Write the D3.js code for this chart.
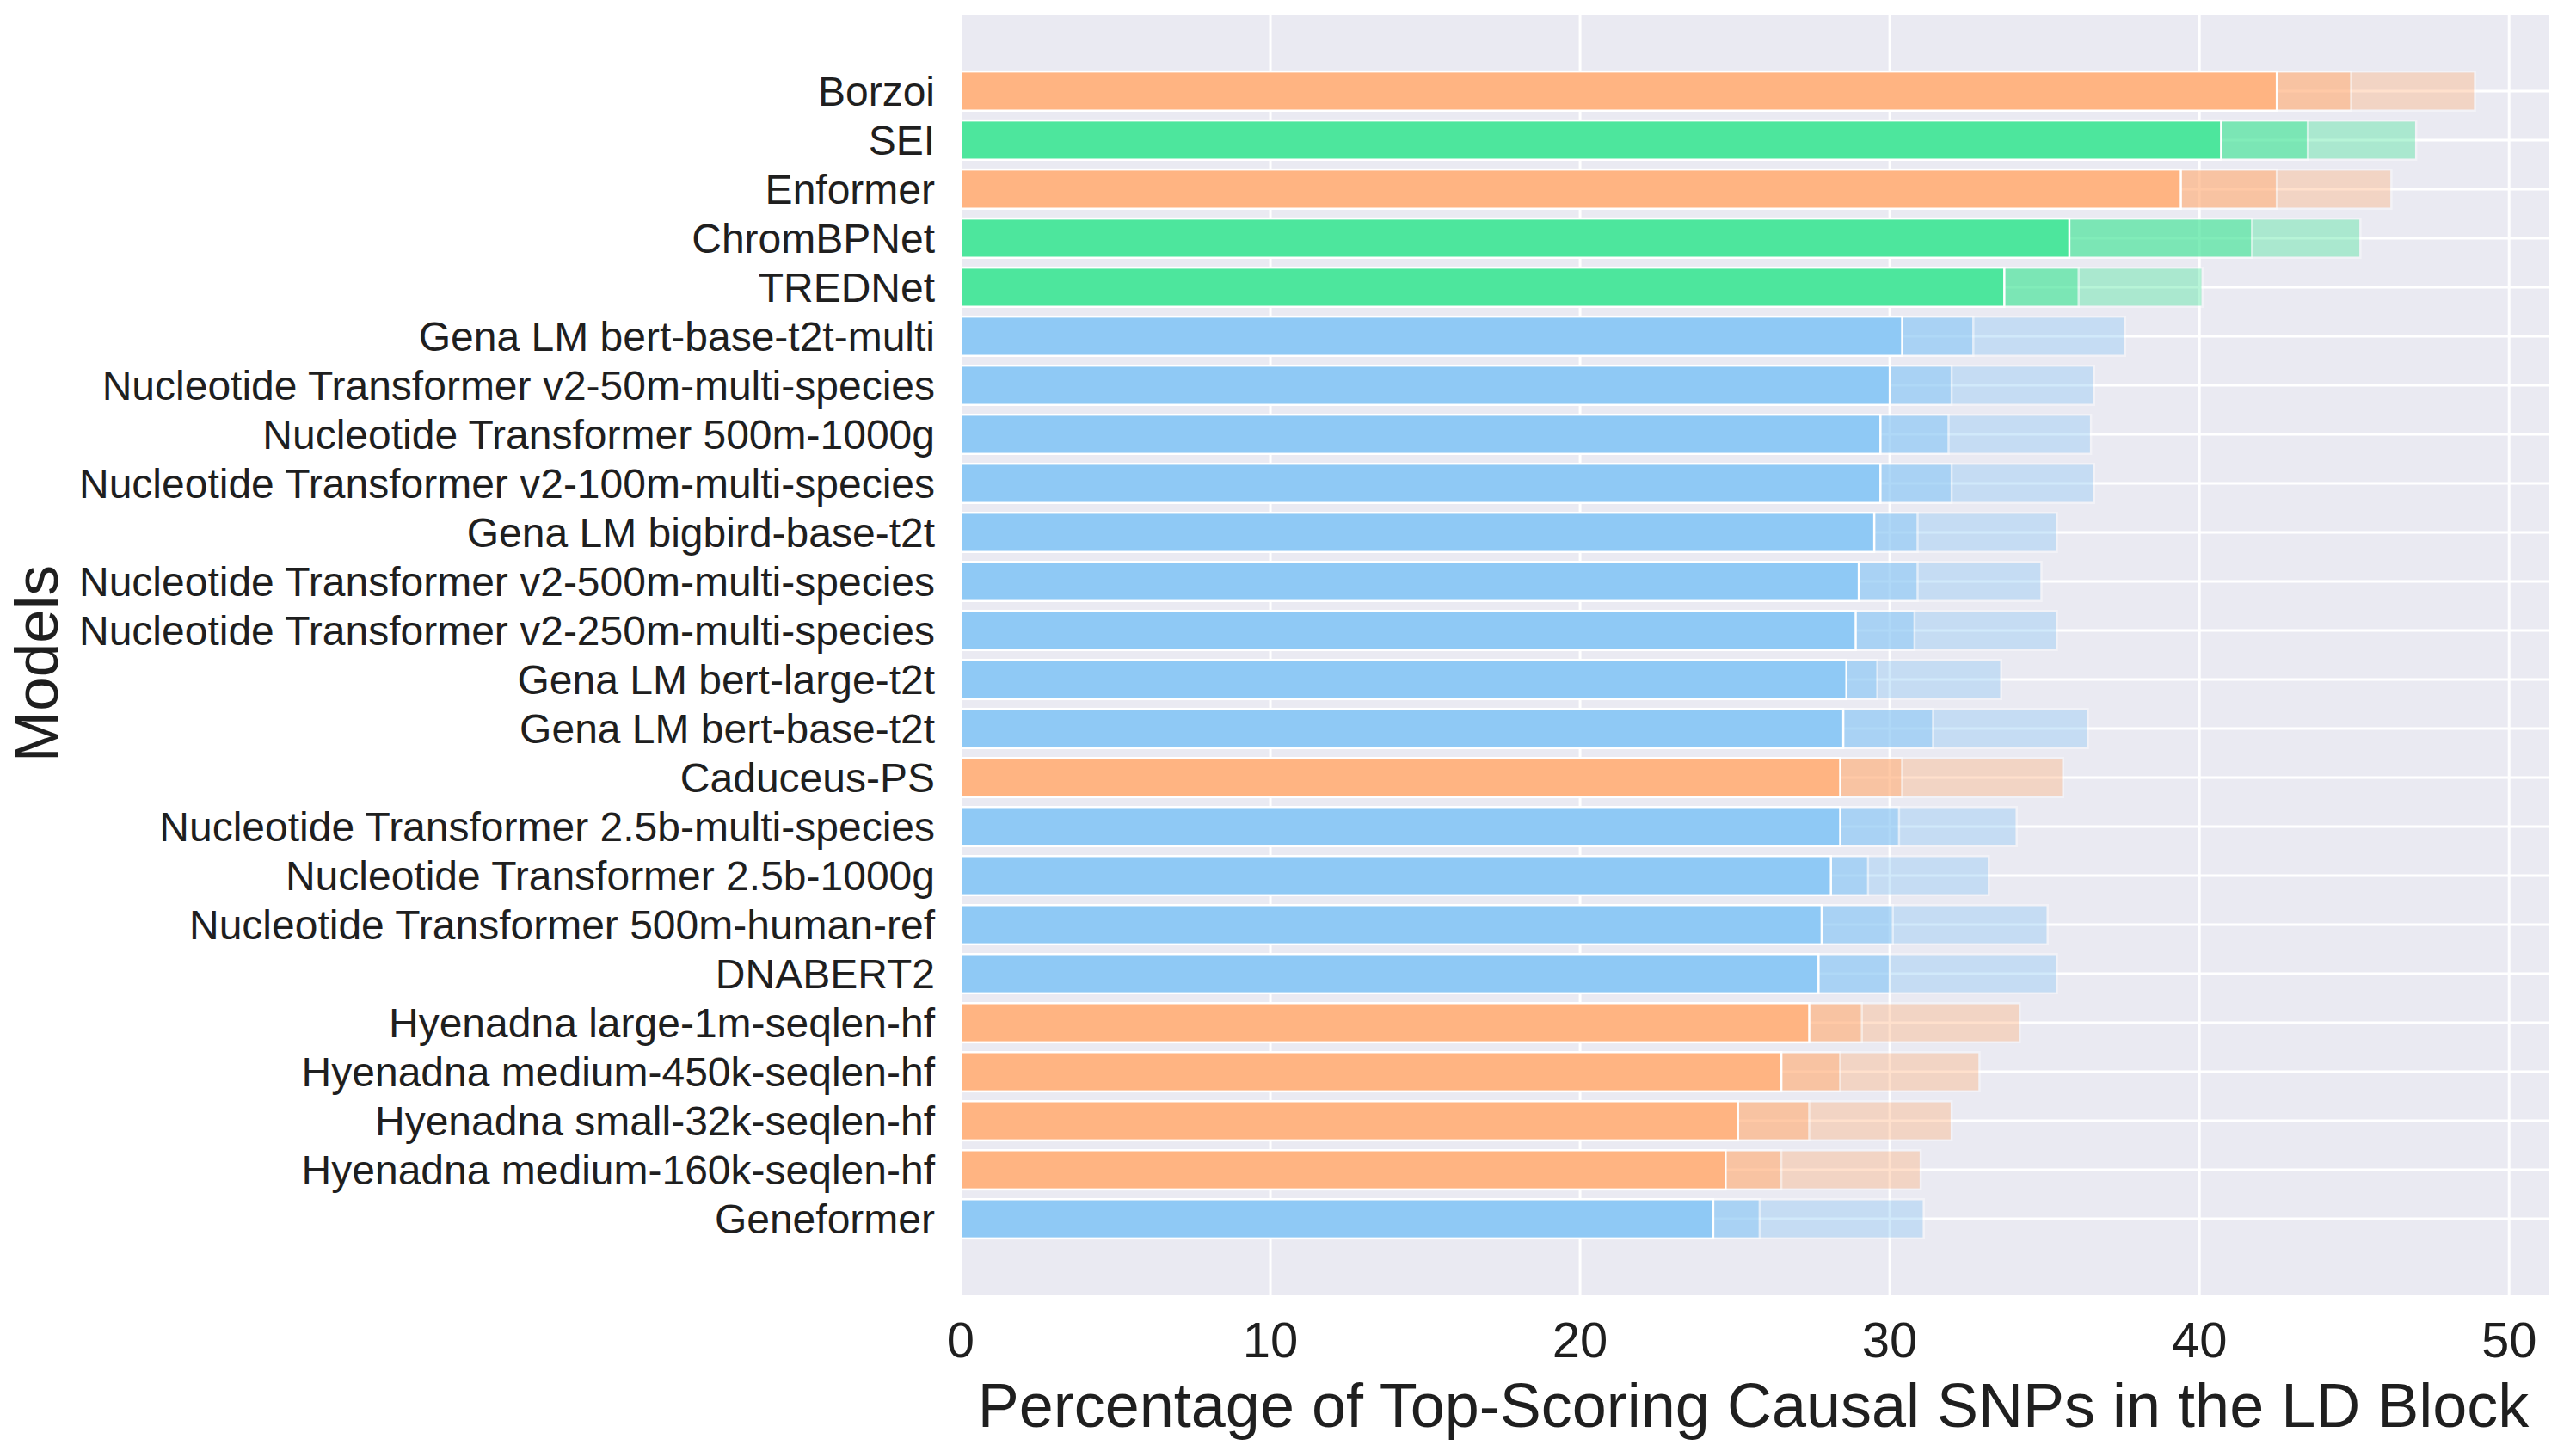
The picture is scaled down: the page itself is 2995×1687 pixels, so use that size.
<!DOCTYPE html>
<html>
<head>
<meta charset="utf-8">
<script src="https://cdn.jsdelivr.net/npm/d3@7"></script>
<style>
  body { margin: 0; background: #fff; }
  text { font-family: "Liberation Sans", Arial, sans-serif; fill: #1f1f1f; }
</style>
</head>
<body>
<svg id="chart" width="2995" height="1687"></svg>
<script>
// models, top to bottom
const models = [
  "Borzoi", "SEI", "Enformer", "ChromBPNet", "TREDNet",
  "Gena LM bert-base-t2t-multi",
  "Nucleotide Transformer v2-50m-multi-species",
  "Nucleotide Transformer 500m-1000g",
  "Nucleotide Transformer v2-100m-multi-species",
  "Gena LM bigbird-base-t2t",
  "Nucleotide Transformer v2-500m-multi-species",
  "Nucleotide Transformer v2-250m-multi-species",
  "Gena LM bert-large-t2t",
  "Gena LM bert-base-t2t",
  "Caduceus-PS",
  "Nucleotide Transformer 2.5b-multi-species",
  "Nucleotide Transformer 2.5b-1000g",
  "Nucleotide Transformer 500m-human-ref",
  "DNABERT2",
  "Hyenadna large-1m-seqlen-hf",
  "Hyenadna medium-450k-seqlen-hf",
  "Hyenadna small-32k-seqlen-hf",
  "Hyenadna medium-160k-seqlen-hf",
  "Geneformer"
];

// colour group of each model
const groups = [
  "orange", "green", "orange", "green", "green",
  "blue", "blue", "blue", "blue", "blue", "blue", "blue", "blue", "blue",
  "orange",
  "blue", "blue", "blue", "blue",
  "orange", "orange", "orange", "orange",
  "blue"
];

// solid bar
const mainPct = [
  42.5, 40.7, 39.4, 35.8, 33.7, 30.4, 30.0, 29.7, 29.7, 29.5, 29.0, 28.9,
  28.6, 28.5, 28.4, 28.4, 28.1, 27.8, 27.7, 27.4, 26.5, 25.1, 24.7, 24.3
];
// middle (semi-light) bar
const midPct = [
  44.9, 43.5, 42.5, 41.7, 36.1, 32.7, 32.0, 31.9, 32.0, 30.9, 30.9, 30.8,
  29.6, 31.4, 30.4, 30.3, 29.3, 30.1, 30.0, 29.1, 28.4, 27.4, 26.5, 25.8
];
// outer (lightest) bar
const outerPct = [
  48.9, 47.0, 46.2, 45.2, 40.1, 37.6, 36.6, 36.5, 36.6, 35.4, 34.9, 35.4,
  33.6, 36.4, 35.6, 34.1, 33.2, 35.1, 35.4, 34.2, 32.9, 32.0, 31.0, 31.1
];

const xTicks = [0, 10, 20, 30, 40, 50];

const colors = { orange: "#ffb482", green: "#4de69d", blue: "#8fc9f5" };

const svg = d3.select("#chart");
const plot = { left: 1117, right: 2964, top: 17, bottom: 1506 };

const x = d3.scaleLinear()
  .domain([0, 51.3])
  .range([plot.left, plot.right]);

const y = d3.scalePoint()
  .domain(models)
  .range([plot.top, plot.bottom])
  .padding(1.56);

const barH = y.step() * 0.8;

// background
svg.append("rect")
  .attr("x", plot.left)
  .attr("y", plot.top)
  .attr("width", plot.right - plot.left)
  .attr("height", plot.bottom - plot.top)
  .attr("fill", "#eaeaf2");

// grid
svg.append("g")
  .selectAll("line")
  .data(xTicks)
  .enter()
  .append("line")
  .attr("x1", d => x(d))
  .attr("x2", d => x(d))
  .attr("y1", plot.top)
  .attr("y2", plot.bottom)
  .attr("stroke", "#fff")
  .attr("stroke-width", 3);

svg.append("g")
  .selectAll("line")
  .data(models)
  .enter()
  .append("line")
  .attr("x1", plot.left)
  .attr("x2", plot.right)
  .attr("y1", d => y(d))
  .attr("y2", d => y(d))
  .attr("stroke", "#fff")
  .attr("stroke-width", 3);

// bars: outer first, then mid, then solid on top
function drawBars(values, opacity) {
  svg.append("g")
    .selectAll("rect")
    .data(models)
    .enter()
    .append("rect")
    .attr("x", x(0))
    .attr("y", d => y(d) - barH / 2)
    .attr("width", (d, i) => x(values[i]) - x(0))
    .attr("height", barH)
    .attr("fill", (d, i) => colors[groups[i]])
    .attr("stroke", "#fff")
    .attr("stroke-width", 2.5)
    .attr("opacity", opacity);
}
drawBars(outerPct, 0.4);
drawBars(midPct, 0.5);
drawBars(mainPct, 1);

// y tick labels
svg.append("g")
  .selectAll("text")
  .data(models)
  .enter()
  .append("text")
  .attr("x", plot.left - 30)
  .attr("y", d => y(d))
  .attr("dy", "0.35em")
  .attr("text-anchor", "end")
  .attr("font-size", 48)
  .text(d => d);

// x tick labels
svg.append("g")
  .selectAll("text")
  .data(xTicks)
  .enter()
  .append("text")
  .attr("x", d => x(d))
  .attr("y", 1558)
  .attr("dy", "0.35em")
  .attr("text-anchor", "middle")
  .attr("font-size", 58)
  .text(d => d);

// axis titles
svg.append("text")
  .attr("x", (plot.left + plot.right) / 2 - 2)
  .attr("y", 1634)
  .attr("dy", "0.35em")
  .attr("text-anchor", "middle")
  .attr("font-size", 72)
  .text("Percentage of Top-Scoring Causal SNPs in the LD Block");

svg.append("text")
  .attr("transform", `translate(42, ${(plot.top + plot.bottom) / 2 + 10}) rotate(-90)`)
  .attr("dy", "0.35em")
  .attr("text-anchor", "middle")
  .attr("font-size", 71)
  .text("Models");
</script>
</body>
</html>
